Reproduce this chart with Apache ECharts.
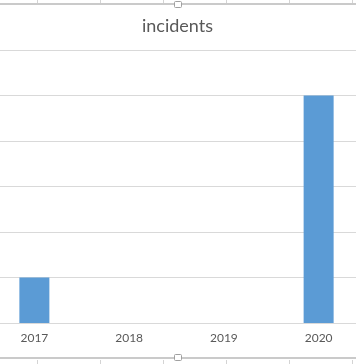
<!DOCTYPE html>
<html>
<head>
<meta charset="utf-8">
<script src="https://cdn.jsdelivr.net/npm/echarts@6/dist/echarts.min.js"></script>
<style>html,body{margin:0;padding:0;background:#fff;overflow:hidden;width:356px;height:364px}#c{position:absolute;left:-13px;top:0;width:379px;height:364px}</style>
</head>
<body>
<div id="c"></div>
<script>
const categories = ['2017', '2018', '2019', '2020'];
const incidents = [1, 0, 0, 5];
const yMin = 0, yMax = 6, yStep = 1;

const chart = echarts.init(document.getElementById('c'), null, {renderer: 'canvas'});
const off = 13;
const cellXs = [37, 100, 163, 226, 289, 352];
const graphics = [];
cellXs.forEach(x => {
  graphics.push({type: 'line', shape: {x1: x + off + 0.5, y1: 0, x2: x + off + 0.5, y2: 3}, style: {stroke: '#d4d4d4', lineWidth: 1}, silent: true});
  graphics.push({type: 'line', shape: {x1: x + off + 0.5, y1: 360, x2: x + off + 0.5, y2: 364}, style: {stroke: '#d4d4d4', lineWidth: 1}, silent: true});
});
graphics.push({type: 'line', shape: {x1: off, y1: 4, x2: 356 + off, y2: 4}, style: {stroke: '#b8b8b8', lineWidth: 1.5}, silent: true});
graphics.push({type: 'line', shape: {x1: off, y1: 358, x2: 356 + off, y2: 358}, style: {stroke: '#b8b8b8', lineWidth: 1.5}, silent: true});
graphics.push({type: 'rect', shape: {x: 174.5 + off, y: 1.5, width: 7, height: 6, r: 1}, style: {fill: '#fff', stroke: '#a0a0a0', lineWidth: 1}, silent: true});
graphics.push({type: 'rect', shape: {x: 174.5 + off, y: 354.5, width: 7, height: 6, r: 1}, style: {fill: '#fff', stroke: '#a0a0a0', lineWidth: 1}, silent: true});

chart.setOption({
  animation: false,
  backgroundColor: '#ffffff',
  title: {
    text: 'incidents',
    left: 142 + off,
    top: 17,
    padding: 0,
    textStyle: {fontFamily: 'Lato', fontSize: 18, fontWeight: 'normal', color: '#595959'}
  },
  grid: {left: 0, right: 0, top: 50, bottom: 41, containLabel: false},
  xAxis: {
    type: 'category',
    data: categories,
    axisLine: {show: true, lineStyle: {color: '#d9d9d9', width: 1}},
    axisTick: {show: false},
    axisLabel: {fontFamily: 'Lato', fontSize: 12, color: '#595959', margin: 9}
  },
  yAxis: {
    type: 'value',
    min: yMin, max: yMax, interval: yStep,
    axisLabel: {show: false},
    axisLine: {show: false},
    axisTick: {show: false},
    splitLine: {lineStyle: {color: '#d9d9d9', width: 1}}
  },
  series: [{
    type: 'bar',
    data: incidents,
    barWidth: 30,
    itemStyle: {color: '#5b9bd5'}
  }],
  graphic: graphics
});
</script>
</body>
</html>
